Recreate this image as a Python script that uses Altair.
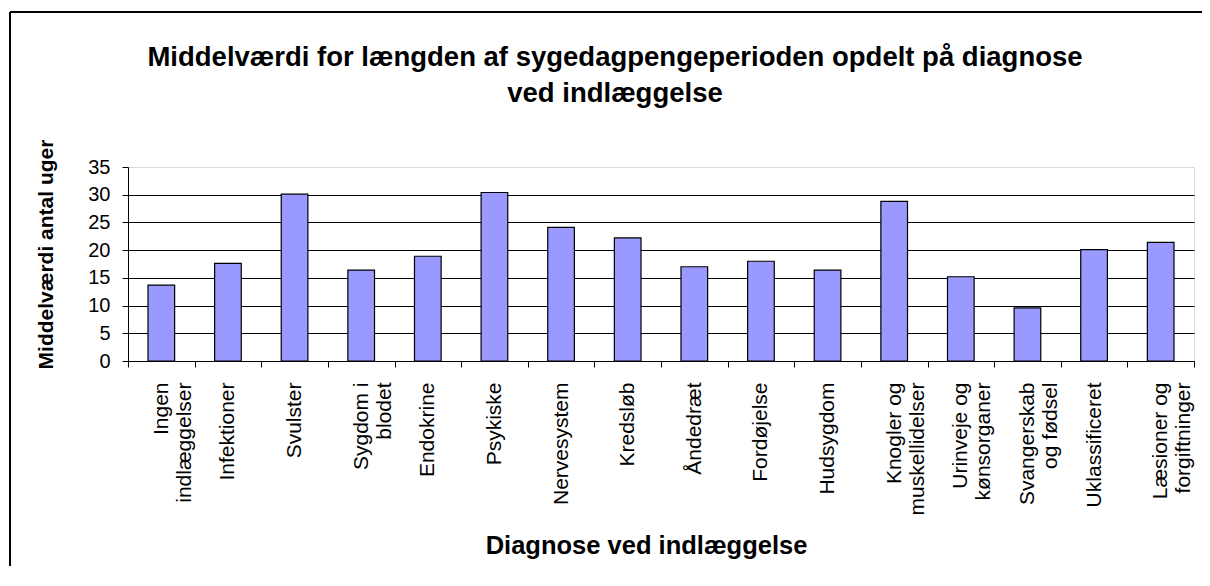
import altair as alt
import pandas as pd

categories = [
    "Ingen\nindlæggelser", "Infektioner", "Svulster", "Sygdom i\nblodet",
    "Endokrine", "Psykiske", "Nervesystem", "Kredsløb", "Åndedræt",
    "Fordøjelse", "Hudsygdom", "Knogler og\nmuskellidelser",
    "Urinveje og\nkønsorganer", "Svangerskab\nog fødsel", "Uklassificeret",
    "Læsioner og\nforgiftninger",
]
values = [13.7, 17.6, 30.1, 16.4, 18.9, 30.4, 24.1, 22.2,
          17.0, 18.0, 16.4, 28.8, 15.2, 9.6, 20.1, 21.4]
y_ticks = [0, 5, 10, 15, 20, 25, 30, 35]

title_line1 = "Middelværdi for længden af sygedagpengeperioden opdelt på diagnose"
title_line2 = "ved indlæggelse"
x_title = "Diagnose ved indlæggelse"
y_title = "Middelværdi antal uger"

df = pd.DataFrame({"cat": categories, "val": values})
FONT = "Liberation Sans"

bars = alt.Chart(df).mark_bar(
    color="#9999FF", stroke="#000000", strokeWidth=1.2, width={"band": 0.4}
).encode(
    x=alt.X("cat:N", sort=categories,
            scale=alt.Scale(paddingInner=0, paddingOuter=0),
            axis=alt.Axis(
                title=x_title, titleFont=FONT, titleFontSize=25.5, titleFontWeight="bold",
                titleColor="#000000", titleX=518, titleY=184, titleBaseline="middle",
                titleAlign="center",
                labelAngle=270, labelFont=FONT, labelFontSize=21, labelColor="#000000",
                labelLineHeight=23, labelPadding=15,
                labelExpr="split(datum.label, '\\n')",
                tickBand="extent", tickSize=6, tickColor="#000000",
                domainColor="#000000", grid=False, labelLimit=300,
            )),
    y=alt.Y("val:Q", scale=alt.Scale(domain=[0, 35], nice=False),
            axis=alt.Axis(
                title=y_title, titleFont=FONT, titleFontSize=21, titleFontWeight="bold",
                titleColor="#000000", titleX=-82, titleY=87, titleAngle=270,
                titleBaseline="middle", titleAlign="center",
                values=y_ticks, labelFont=FONT, labelFontSize=20, labelColor="#000000",
                labelPadding=12, tickSize=6, tickColor="#000000", domainColor="#000000",
                grid=True, gridWidth=1,
                gridColor={"condition": {"test": "datum.value === 35", "value": "#d9d9d9"},
                           "value": "#000000"},
            )),
)

one = alt.Data(values=[{"k": 1}])
left_line = alt.Chart(one).mark_rule(color="#000000", strokeWidth=2).encode(
    x=alt.value(-118), y=alt.value(-155), y2=alt.value(420))
top_line = alt.Chart(one).mark_rule(color="#000000", strokeWidth=2).encode(
    x=alt.value(-118), x2=alt.value(1080), y=alt.value(-155))
t1 = alt.Chart(one).mark_text(font=FONT, fontSize=27.5, fontWeight="bold", color="#000000",
                              align="center", baseline="alphabetic").encode(
    x=alt.value(487), y=alt.value(-101), text=alt.value(title_line1))
t2 = alt.Chart(one).mark_text(font=FONT, fontSize=27.5, fontWeight="bold", color="#000000",
                              align="center", baseline="alphabetic").encode(
    x=alt.value(487), y=alt.value(-65), text=alt.value(title_line2))

chart = alt.layer(bars, left_line, top_line, t1, t2).properties(
    width=1066, height=194,
    autosize=alt.AutoSizeParams(type="none"),
    padding={"left": 120, "top": 159, "right": 8, "bottom": 205},
).configure_view(stroke=None).configure(background="#ffffff")

chart.save("out.html", embed_options={"renderer": "svg", "actions": False})
